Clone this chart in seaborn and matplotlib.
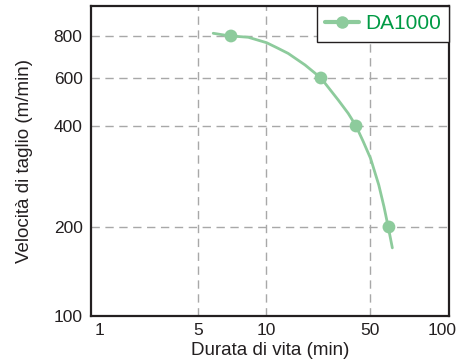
import numpy as np
import pandas as pd
import matplotlib
matplotlib.use('Agg')
import matplotlib.pyplot as plt
from matplotlib.lines import Line2D
import seaborn as sns

# measured points (marker positions)
life_min = [7, 23.4, 40.3, 60]
speed = [800, 600, 400, 200]

# curve
curve_life = [5.84, 6.86, 8.35, 10.1, 11.86, 14.1, 18.3, 23.4, 30.6, 35.7, 40.3, 45.1, 50.3, 54.4, 57.2, 59.6, 62.0]
curve_speed = [815, 801, 793, 764, 738, 710, 656, 600, 498, 445, 400, 359, 320, 267, 230, 200, 170]

x_ticks = [1, 5, 10, 50, 100]
y_ticks = [100, 200, 400, 600, 800]
series_name = 'DA1000'

line_col = '#8dcb9c'
text_col = '#009a44'

# the original axes are not a clean log scale, so piecewise log scale through the tick spots
x_pos = [0, 98, 166, 270, 342]
y_pos = [0, 89, 190, 238, 280]


def extrap(x, xp, fp):
    x = np.asarray(x, dtype=float)
    y = np.interp(x, xp, fp)
    s0 = (fp[1] - fp[0]) / (xp[1] - xp[0])
    s1 = (fp[-1] - fp[-2]) / (xp[-1] - xp[-2])
    y = np.where(x < xp[0], fp[0] + (x - xp[0]) * s0, y)
    y = np.where(x > xp[-1], fp[-1] + (x - xp[-1]) * s1, y)
    return y


def make_scale(vals, pos):
    lv = np.log10(np.asarray(vals, dtype=float))
    pos = np.asarray(pos, dtype=float)

    def fwd(v):
        v = np.clip(np.asarray(v, dtype=float), 1e-6, None)
        return extrap(np.log10(v), lv, pos)

    def inv(p):
        return 10 ** extrap(p, pos, lv)
    return fwd, inv


xf, xi = make_scale(x_ticks, x_pos)
yf, yi = make_scale(y_ticks, y_pos)

sns.set_style('white')
plt.rcParams['font.family'] = ['Liberation Sans', 'DejaVu Sans']

df_pts = pd.DataFrame({'life': life_min, 'speed': speed})
df_curve = pd.DataFrame({'life': curve_life, 'speed': curve_speed})

fig, ax = plt.subplots(figsize=(4.57, 3.63), dpi=100)
fig.subplots_adjust(left=0.199, right=0.9825, top=0.9835, bottom=0.1295)

ax.set_xscale('function', functions=(xf, xi))
ax.set_yscale('function', functions=(yf, yi))

sns.lineplot(data=df_curve, x='life', y='speed', ax=ax, color=line_col,
             linewidth=2.0, sort=False, legend=False, zorder=3)
sns.scatterplot(data=df_pts, x='life', y='speed', ax=ax, color=line_col,
                s=85, edgecolor='none', legend=False, zorder=4)

ax.set_xlim(float(xi(-9)), float(xi(349)))
ax.set_ylim(float(yi(0)), float(yi(310)))

ax.set_xticks(x_ticks)
ax.set_xticklabels([str(t) for t in x_ticks])
ax.set_yticks(y_ticks)
ax.set_yticklabels([str(t) for t in y_ticks])
ax.minorticks_off()
ax.tick_params(axis='both', length=0, labelsize=12.5, colors='#231f20')
ax.tick_params(axis='y', pad=6)
ax.tick_params(axis='x', pad=5)

ax.grid(True, color='#a8a8a8', linestyle=(0, (6, 4)), linewidth=1.0)
for i, g in enumerate(ax.xaxis.get_gridlines()):
    if x_ticks[i] in (1, 100):
        g.set_visible(False)
for i, g in enumerate(ax.yaxis.get_gridlines()):
    if y_ticks[i] == 100:
        g.set_visible(False)

for sp in ax.spines.values():
    sp.set_visible(True)
    sp.set_color('#231f20')
    sp.set_linewidth(1.6)

ax.set_xlabel('Durata di vita (min)', fontsize=13.5, color='#231f20', labelpad=3)
ax.set_ylabel('Velocità di taglio (m/min)', fontsize=13.5, color='#231f20', labelpad=15)

handle = Line2D([], [], color=line_col, linewidth=3, marker='o', markersize=9,
                markeredgecolor='none')
leg = ax.legend([handle], [series_name], loc='upper right', bbox_to_anchor=(1.0, 1.0),
                borderaxespad=0, fontsize=15, frameon=True, fancybox=False,
                handlelength=1.6, handletextpad=0.3, borderpad=0.4)
leg.get_frame().set_edgecolor('#231f20')
leg.get_frame().set_linewidth(1.0)
leg.get_frame().set_alpha(1)
for t in leg.get_texts():
    t.set_color(text_col)

plt.savefig('out.png', dpi=100)
